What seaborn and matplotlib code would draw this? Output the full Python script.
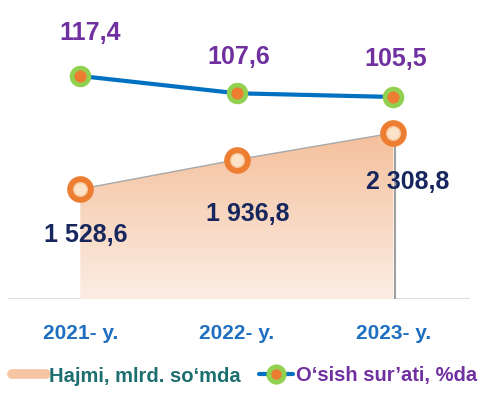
import seaborn as sns
import matplotlib.pyplot as plt
import numpy as np
import pandas as pd
from matplotlib.colors import LinearSegmentedColormap
from matplotlib.lines import Line2D

years = ['2021- y.', '2022- y.', '2023- y.']
volume = [1528.6, 1936.8, 2308.8]
growth = [117.4, 107.6, 105.5]
volume_labels = ['1 528,6', '1 936,8', '2 308,8']
growth_labels = ['117,4', '107,6', '105,5']

df = pd.DataFrame({'pos': range(len(years)), 'volume': volume, 'growth': growth})

sns.set_style('white')
plt.rcParams['font.family'] = ['Liberation Sans', 'DejaVu Sans']

fig = plt.figure(figsize=(4.99, 3.93), dpi=100)
ax = fig.add_axes([8 / 499, 94 / 393, 462 / 499, 289 / 393])
ax2 = ax.twinx()

# area with vertical gradient
fill = ax.fill_between(df['pos'], 0, df['volume'], color='none', lw=0)
cmap = LinearSegmentedColormap.from_list('grad', ['#FBEDE4', '#F5C09C'])
grad = np.linspace(0, 1, 256).reshape(-1, 1)
img = ax.imshow(grad, cmap=cmap, aspect='auto', origin='lower',
                extent=[0, 2, 0, max(volume)], zorder=1)
img.set_clip_path(fill.get_paths()[0], transform=ax.transData)
ax.plot([2.012, 2.012], [0, volume[-1]], color='#A0A0A0', lw=1.5, zorder=1)
sns.lineplot(data=df, x='pos', y='volume', ax=ax, color='#A8A8A8', lw=1, zorder=2)
ax.scatter(df['pos'], df['volume'], s=330, color='#ED7D31', zorder=4)
ax.scatter(df['pos'], df['volume'], s=95, color='#FCE3C8', edgecolor='#F6C9A0', lw=1, zorder=5)
ax.axhline(0, color='#D9D9D9', lw=1.2, zorder=0)

# growth line
sns.lineplot(data=df, x='pos', y='growth', ax=ax2, color='#0070C0', lw=3, zorder=3)
ax2.scatter(df['pos'], df['growth'], s=210, color='#92D050', zorder=4)
ax2.scatter(df['pos'], df['growth'], s=60, color='#ED7D31', zorder=5)

ax.set_xlim(-0.462, 2.49)
ax.set_ylim(0, 4019)
ax2.set_ylim(-9.0, 154.8)

vol_off = [(5, -46), (11, -54), (14, -49)]
gr_off = [(10, 43), (2, 36), (2, 38)]
for i in range(len(years)):
    ax.annotate(volume_labels[i], (i, volume[i]), xytext=vol_off[i],
                textcoords='offset pixels', ha='center', va='center',
                fontsize=18, fontweight='bold', color='#17275E', zorder=6)
    ax2.annotate(growth_labels[i], (i, growth[i]), xytext=gr_off[i],
                 textcoords='offset pixels', ha='center', va='center',
                 fontsize=18, fontweight='bold', color='#7030A0', zorder=6)

ax.set_xticks(df['pos'])
ax.set_xticklabels(years, fontsize=15, fontweight='bold', color='#1F6FC0')
ax.tick_params(axis='x', length=0, pad=18)
ax.set_yticks([])
ax2.set_yticks([])
ax.set_xlabel('')
ax.set_ylabel('')
ax2.set_ylabel('')
for a in (ax, ax2):
    for s in a.spines.values():
        s.set_visible(False)

handles = [
    Line2D([], [], color='#F6C6A4', lw=7),
    Line2D([], [], color='#0070C0', lw=3, marker='o', markersize=11,
           markerfacecolor='#ED7D31', markeredgecolor='#92D050', markeredgewidth=3.5),
]
leg = fig.legend(handles, ['Hajmi, mlrd. so‘mda', 'O‘sish sur’ati, %da'],
                 loc='center', bbox_to_anchor=(0.49, 1 - 376 / 393), ncol=2,
                 frameon=False, handlelength=1.7, handletextpad=0.15,
                 columnspacing=0.9, prop={'weight': 'bold', 'size': 14.5})
leg.get_texts()[0].set_color('#1D6E6E')
leg.get_texts()[1].set_color('#7030A0')

fig.savefig('out.png', dpi=100)
